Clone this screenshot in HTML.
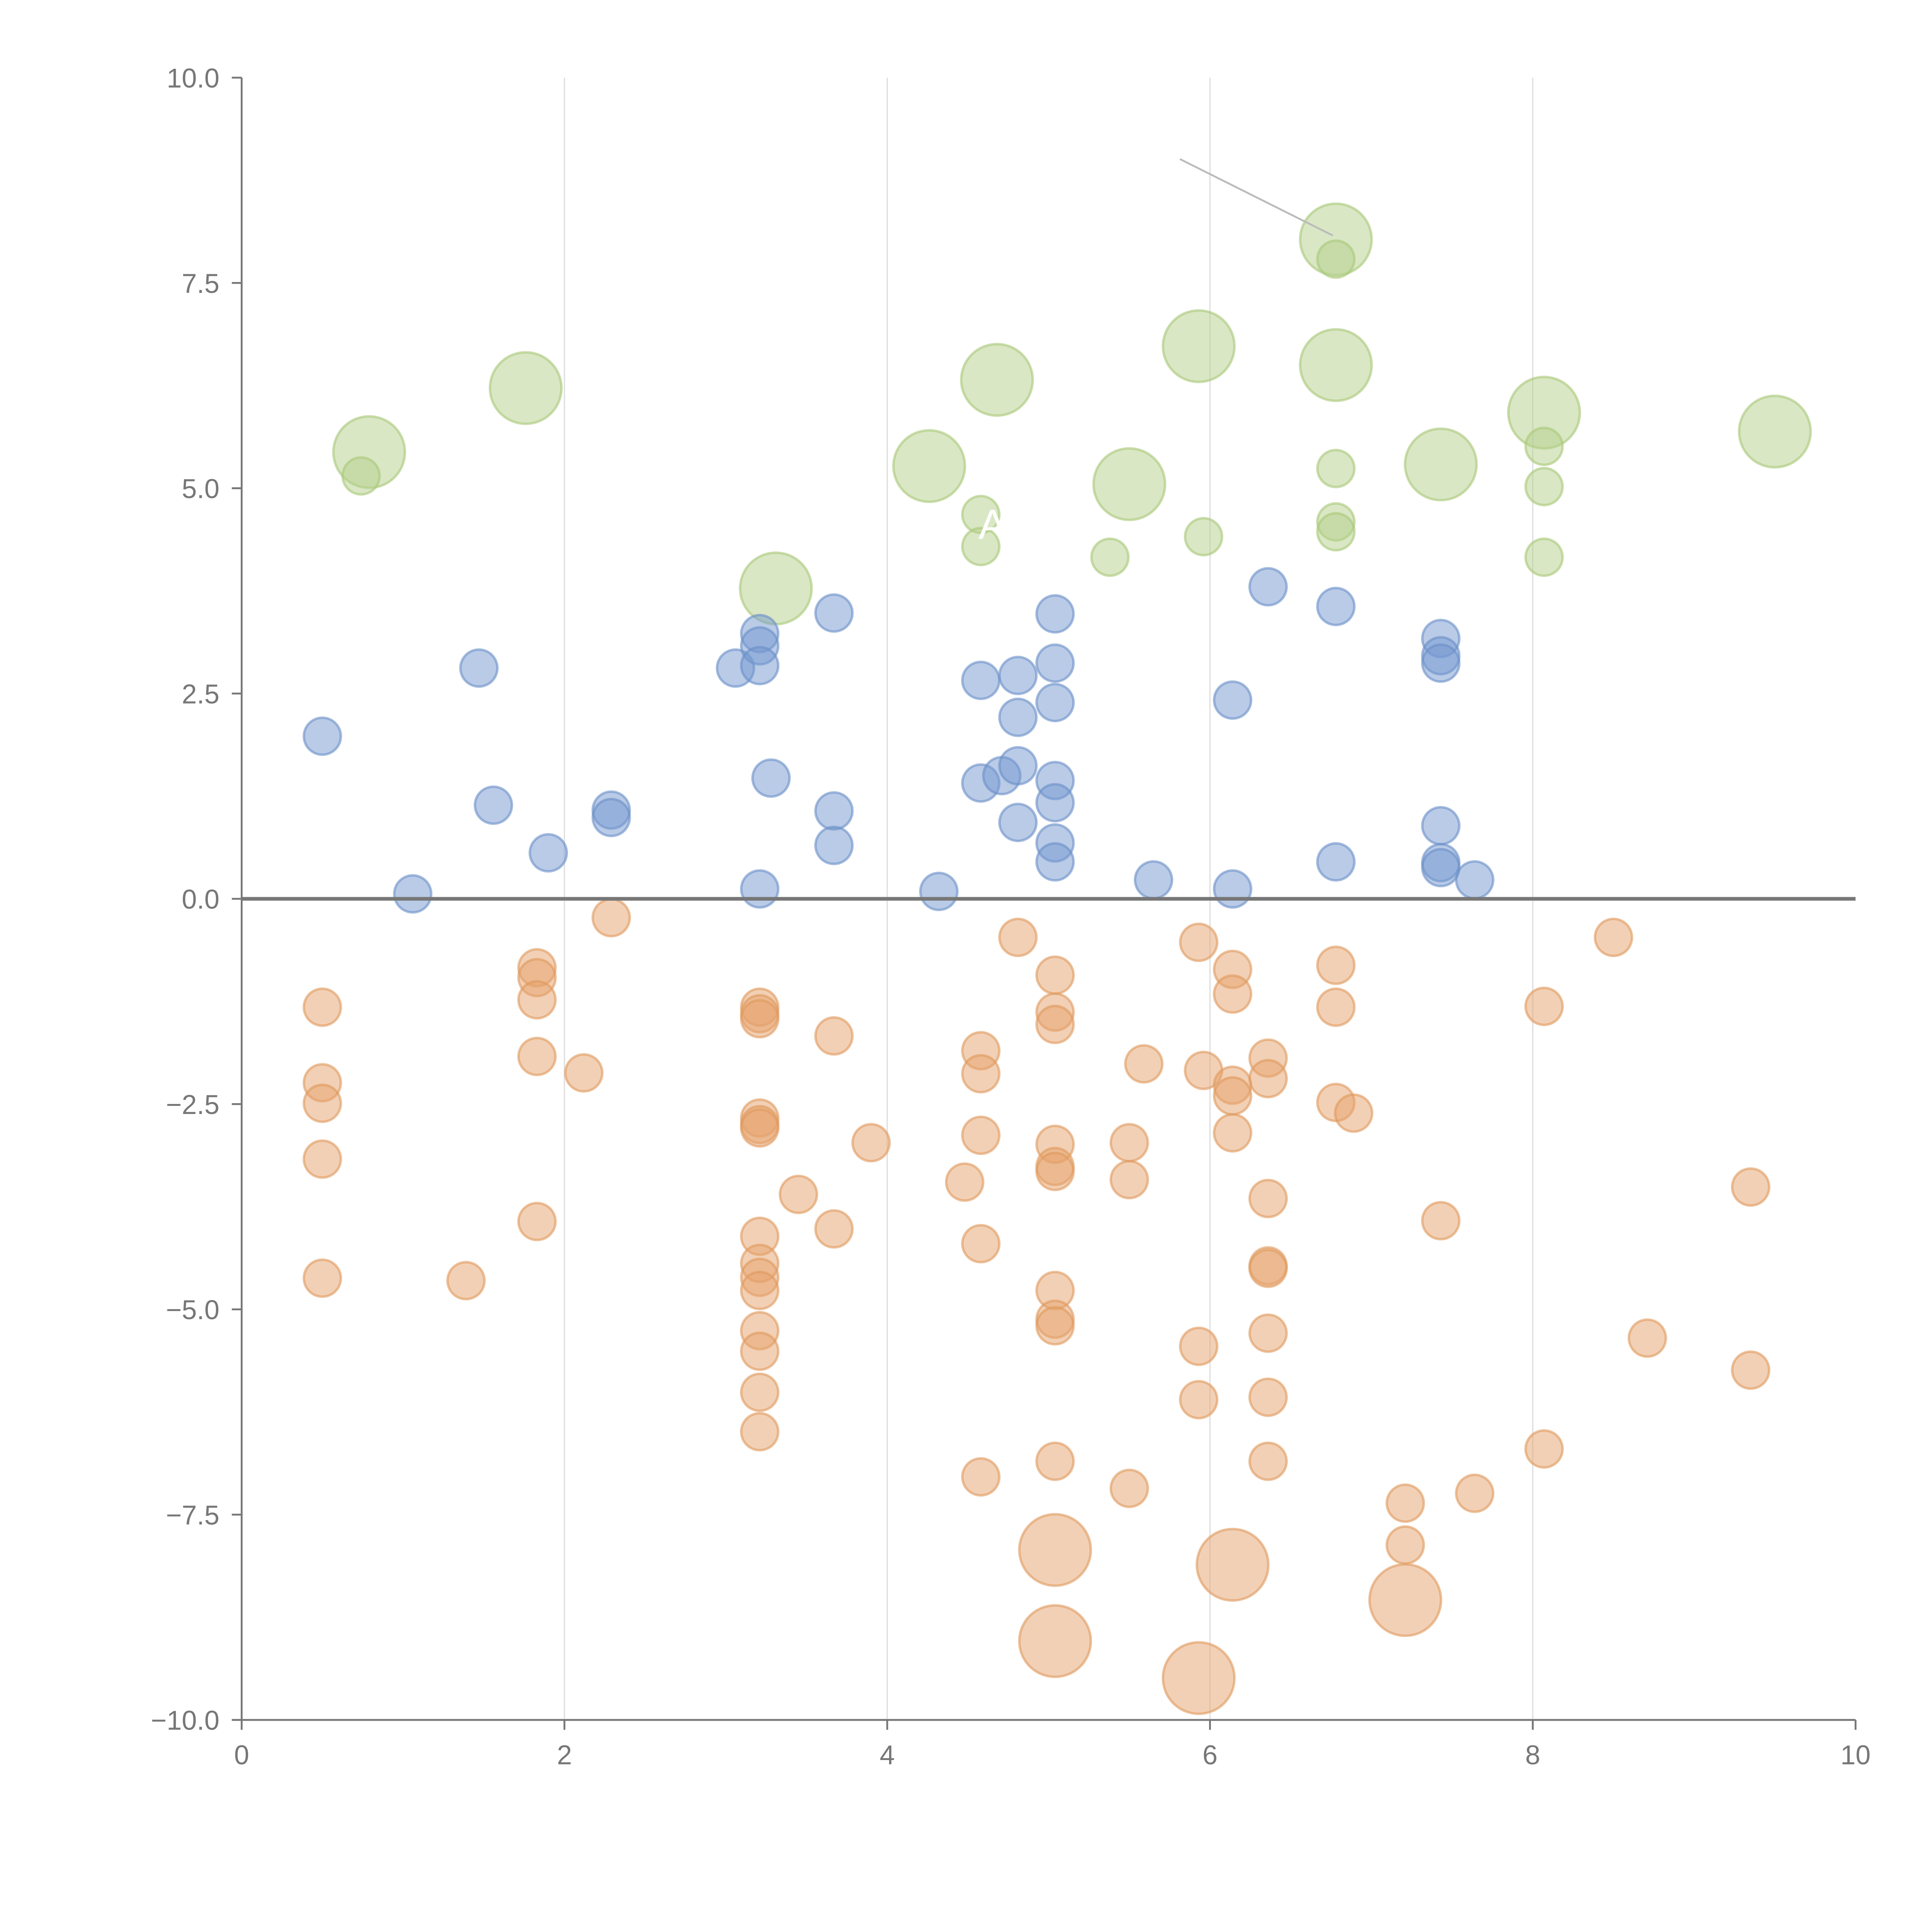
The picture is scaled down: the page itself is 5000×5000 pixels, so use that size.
<!DOCTYPE html>
<html><head><meta charset="utf-8"><style>html,body{margin:0;padding:0;background:#fff}svg{display:block}</style></head>
<body>
<svg id="chart" xmlns="http://www.w3.org/2000/svg" width="5000" height="5000" viewBox="0 0 1567 1567" font-family="Liberation Sans, sans-serif">
<g id="grid"></g>
<g id="marks"></g>
<g id="axes"></g>
</svg>
<script>
const xTicks=[0,2,4,6,8,10];
const yTicks=[10,7.5,5,2.5,0,-2.5,-5,-7.5,-10];
const yTickLabels=["10.0","7.5","5.0","2.5","0.0","\u22122.5","\u22125.0","\u22127.5","\u221210.0"];
const blueX=[0.50,1.06,1.47,1.56,1.90,2.29,2.29,3.06,3.21,3.21,3.21,3.28,3.21,3.67,3.67,3.67,4.32,4.58,4.58,4.71,4.81,4.81,4.81,4.81,5.04,5.04,5.04,5.04,5.04,5.04,5.04,5.65,6.14,6.14,6.36,6.78,6.78,7.43,7.43,7.43,7.43,7.43,7.43,7.64];
const blueY=[1.98,0.06,2.81,1.14,0.56,1.08,0.99,2.81,3.23,3.08,2.84,1.47,0.12,3.48,1.07,0.65,0.09,2.66,1.41,1.50,2.72,2.21,1.62,0.93,3.47,2.87,2.39,1.44,1.17,0.68,0.45,0.23,2.42,0.12,3.80,3.56,0.45,3.17,2.96,2.87,0.89,0.44,0.38,0.23];
const orangeX=[0.50,0.50,0.50,0.50,0.50,1.39,1.83,1.83,1.83,1.83,1.83,2.12,2.29,3.21,3.21,3.21,3.21,3.21,3.21,3.21,3.21,3.21,3.21,3.21,3.21,3.21,3.21,3.45,3.67,3.67,3.90,4.48,4.58,4.58,4.58,4.58,4.58,4.81,5.04,5.04,5.04,5.04,5.04,5.04,5.04,5.04,5.04,5.04,5.50,5.50,5.50,5.59,5.93,5.96,5.93,5.93,6.14,6.14,6.14,6.14,6.14,6.36,6.36,6.36,6.36,6.36,6.36,6.36,6.36,6.78,6.78,6.78,6.89,7.21,7.21,7.43,7.64,8.07,8.07,8.50,8.71,9.35,9.35];
const orangeY=[-1.32,-2.24,-2.49,-3.17,-4.62,-4.65,-0.84,-0.96,-1.23,-1.92,-3.93,-2.12,-0.23,-1.32,-1.40,-1.46,-2.67,-2.75,-2.79,-4.11,-4.44,-4.61,-4.77,-5.26,-5.51,-6.01,-6.49,-3.60,-1.67,-4.02,-2.97,-3.45,-1.85,-2.13,-2.88,-4.20,-7.04,-0.47,-0.93,-1.38,-1.53,-2.99,-3.26,-3.32,-4.77,-5.12,-5.20,-6.85,-2.97,-3.42,-7.18,-2.01,-0.53,-2.09,-5.45,-6.10,-0.86,-1.16,-2.27,-2.40,-2.85,-1.94,-2.19,-3.65,-4.47,-4.50,-5.29,-6.07,-6.85,-0.81,-1.32,-2.48,-2.61,-7.36,-7.87,-3.92,-7.24,-1.31,-6.70,-0.47,-5.35,-3.51,-5.74];
const orangeBigX=[5.04,6.14,7.21,5.04,5.93];
const orangeBigY=[-7.93,-8.11,-8.54,-9.04,-9.49];
const greenX=[0.74,4.58,4.58,5.38,5.96,6.78,6.78,6.78,6.78,8.07,8.07,8.07];
const greenY=[5.15,4.68,4.29,4.16,4.41,7.79,5.24,4.59,4.47,5.51,5.02,4.16];
const greenBigX=[0.79,1.76,3.31,4.26,4.68,5.50,5.93,6.78,6.78,7.43,8.07,9.50];
const greenBigY=[5.44,6.22,3.78,5.27,6.32,5.05,6.73,8.03,6.50,5.29,5.92,5.69];

const X0=196,X1=1505,Y0=1395,Y1=63;
const sx=v=>X0+(v-0)/10*(X1-X0);
const sy=v=>Y0-(v+10)/20*(Y0-Y1);
const NS="http://www.w3.org/2000/svg";
function mk(tag,attrs,parent){const e=document.createElementNS(NS,tag);for(const k in attrs)e.setAttribute(k,attrs[k]);parent.appendChild(e);return e;}
const grid=document.getElementById('grid'),marks=document.getElementById('marks'),axes=document.getElementById('axes');
xTicks.slice(1,5).forEach(t=>{const l=mk('line',{x1:sx(t),x2:sx(t),y1:Y1,y2:Y0,stroke:'#dedede','stroke-width':1},grid);

});
function series(xs,ys,r,fill,stroke,name){xs.forEach((x,i)=>{const c=mk('circle',{cx:sx(x),cy:sy(ys[i]),r:r,fill:fill,'fill-opacity':0.5,stroke:stroke,'stroke-opacity':0.6,'stroke-width':2},marks);

});}
series(greenBigX,greenBigY,29,'#b4d08a','#a8c878','bubble-green-large');
series(greenX,greenY,15,'#b4d08a','#a8c878','bubble-green');
series(blueX,blueY,15,'#7397cf','#6a8fc8','bubble-blue');
series(orangeX,orangeY,15,'#e6a26c','#e0995e','bubble-orange');
series(orangeBigX,orangeBigY,29,'#e6a26c','#e0995e','bubble-orange-large');
const ann=mk('line',{x1:957,y1:129,x2:1081,y2:191,stroke:'#bbb','stroke-width':1.5},marks);


const lab=mk('text',{x:805,y:437,fill:'#fff','font-size':34,'text-anchor':'middle'},marks);lab.textContent='A';


const yl=mk('line',{x1:X0,x2:X0,y1:Y1,y2:Y0,stroke:'#777','stroke-width':1.5},axes);


const xl=mk('line',{x1:X0,x2:X1,y1:Y0,y2:Y0,stroke:'#777','stroke-width':1.5},axes);


const zl=mk('line',{x1:X0,x2:X1,y1:sy(0),y2:sy(0),stroke:'#777','stroke-width':3},axes);


xTicks.forEach(t=>{mk('line',{x1:sx(t),x2:sx(t),y1:Y0,y2:Y0+8,stroke:'#777','stroke-width':1.5},axes);
const tx=mk('text',{x:sx(t),y:Y0+36,fill:'#777','font-size':22,'text-anchor':'middle'},axes);tx.textContent=t;

});
yTicks.forEach((t,i)=>{mk('line',{x1:X0-8,x2:X0,y1:sy(t),y2:sy(t),stroke:'#777','stroke-width':1.5},axes);
const tx=mk('text',{x:X0-18,y:sy(t)+8,fill:'#777','font-size':22,'text-anchor':'end'},axes);tx.textContent=yTickLabels[i];

});
</script>
</body></html>
